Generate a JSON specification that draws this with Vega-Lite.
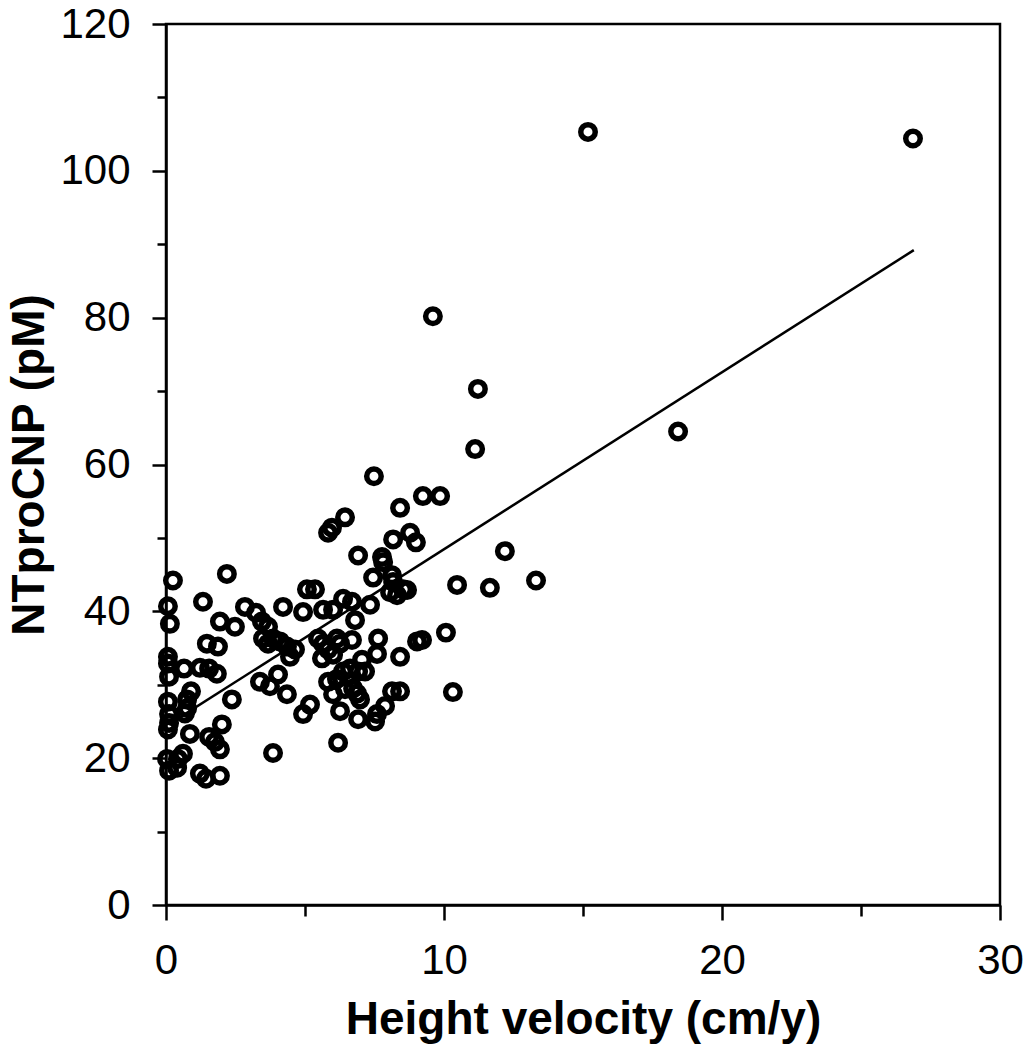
{
  "$schema": "https://vega.github.io/schema/vega-lite/v6.json",
  "autosize": "none",
  "width": 834,
  "height": 881,
  "padding": {"left": 166, "top": 24, "right": 25, "bottom": 145},
  "background": "white",
  "config": {
    "view": {"stroke": "black", "strokeWidth": 2.5},
    "font": "Liberation Sans",
    "axis": {
      "domainColor": "black", "domainWidth": 2.5,
      "tickColor": "black", "tickWidth": 2.5,
      "labelColor": "black", "labelFont": "Liberation Sans", "labelFontSize": 42,
      "titleColor": "black", "titleFont": "Liberation Sans", "titleFontSize": 46, "titleFontWeight": "bold",
      "grid": false
    }
  },
  "datasets": {
    "pts": [
      {"hv": 0.07, "nt": 40.7}, {"hv": 0.25, "nt": 44.2}, {"hv": 0.14, "nt": 38.3}, {"hv": 0.07, "nt": 33.8},
      {"hv": 0.07, "nt": 32.9}, {"hv": 0.11, "nt": 31.1}, {"hv": 0.07, "nt": 27.7}, {"hv": 0.11, "nt": 26.0},
      {"hv": 0.07, "nt": 23.9}, {"hv": 0.11, "nt": 24.8}, {"hv": 0.04, "nt": 19.9}, {"hv": 0.11, "nt": 18.3},
      {"hv": 0.40, "nt": 18.7}, {"hv": 1.33, "nt": 41.3}, {"hv": 2.19, "nt": 45.1}, {"hv": 1.94, "nt": 38.6},
      {"hv": 2.48, "nt": 37.9}, {"hv": 1.47, "nt": 35.6}, {"hv": 1.87, "nt": 35.2}, {"hv": 0.65, "nt": 32.2},
      {"hv": 1.22, "nt": 32.3}, {"hv": 1.55, "nt": 32.2}, {"hv": 1.83, "nt": 31.5}, {"hv": 0.90, "nt": 29.1},
      {"hv": 0.76, "nt": 28.0}, {"hv": 0.76, "nt": 26.8}, {"hv": 2.37, "nt": 28.0}, {"hv": 0.68, "nt": 26.1},
      {"hv": 0.86, "nt": 23.3}, {"hv": 2.01, "nt": 24.6}, {"hv": 1.55, "nt": 22.9}, {"hv": 1.76, "nt": 22.2},
      {"hv": 1.94, "nt": 21.2}, {"hv": 0.61, "nt": 20.6}, {"hv": 0.43, "nt": 19.9}, {"hv": 1.22, "nt": 17.9},
      {"hv": 1.44, "nt": 17.2}, {"hv": 1.94, "nt": 17.6}, {"hv": 2.84, "nt": 40.6}, {"hv": 3.24, "nt": 39.8},
      {"hv": 3.45, "nt": 38.6}, {"hv": 4.21, "nt": 40.6}, {"hv": 3.67, "nt": 37.9}, {"hv": 3.49, "nt": 36.3},
      {"hv": 3.85, "nt": 36.3}, {"hv": 4.10, "nt": 35.9}, {"hv": 4.35, "nt": 35.2}, {"hv": 4.64, "nt": 34.8},
      {"hv": 4.46, "nt": 33.8}, {"hv": 3.67, "nt": 35.6}, {"hv": 3.38, "nt": 30.4}, {"hv": 3.74, "nt": 29.8},
      {"hv": 4.03, "nt": 31.4}, {"hv": 4.35, "nt": 28.7}, {"hv": 3.85, "nt": 20.7}, {"hv": 5.07, "nt": 43.0},
      {"hv": 5.36, "nt": 43.0}, {"hv": 4.93, "nt": 39.9}, {"hv": 5.65, "nt": 40.2}, {"hv": 6.37, "nt": 41.7},
      {"hv": 5.47, "nt": 36.3}, {"hv": 5.65, "nt": 35.6}, {"hv": 5.83, "nt": 34.8}, {"hv": 6.01, "nt": 34.1},
      {"hv": 6.26, "nt": 35.6}, {"hv": 5.61, "nt": 33.6}, {"hv": 5.83, "nt": 30.4}, {"hv": 6.37, "nt": 31.8},
      {"hv": 5.18, "nt": 27.3}, {"hv": 4.93, "nt": 26.0}, {"hv": 6.26, "nt": 26.4}, {"hv": 6.44, "nt": 29.4},
      {"hv": 6.73, "nt": 29.5}, {"hv": 6.98, "nt": 28.0}, {"hv": 6.91, "nt": 25.3}, {"hv": 7.52, "nt": 25.0},
      {"hv": 7.88, "nt": 27.1}, {"hv": 8.13, "nt": 29.1}, {"hv": 6.19, "nt": 22.1}, {"hv": 5.97, "nt": 51.4},
      {"hv": 5.83, "nt": 50.7}, {"hv": 6.44, "nt": 52.8}, {"hv": 7.48, "nt": 58.4}, {"hv": 6.91, "nt": 47.6},
      {"hv": 7.77, "nt": 47.4}, {"hv": 7.81, "nt": 46.7}, {"hv": 8.17, "nt": 49.8}, {"hv": 8.42, "nt": 54.1},
      {"hv": 8.78, "nt": 50.7}, {"hv": 8.99, "nt": 49.4}, {"hv": 9.24, "nt": 55.7}, {"hv": 9.86, "nt": 55.7},
      {"hv": 7.45, "nt": 44.6}, {"hv": 8.13, "nt": 44.9}, {"hv": 8.31, "nt": 42.2}, {"hv": 8.67, "nt": 42.9},
      {"hv": 6.69, "nt": 41.3}, {"hv": 7.34, "nt": 40.9}, {"hv": 6.01, "nt": 40.2}, {"hv": 6.80, "nt": 38.8},
      {"hv": 7.63, "nt": 36.3}, {"hv": 6.69, "nt": 36.1}, {"hv": 6.15, "nt": 36.3}, {"hv": 7.59, "nt": 34.2},
      {"hv": 8.42, "nt": 33.8}, {"hv": 9.03, "nt": 35.9}, {"hv": 9.21, "nt": 36.1}, {"hv": 7.05, "nt": 33.4},
      {"hv": 6.62, "nt": 32.2}, {"hv": 6.91, "nt": 31.8}, {"hv": 7.16, "nt": 31.8}, {"hv": 6.15, "nt": 30.8},
      {"hv": 6.01, "nt": 28.7}, {"hv": 6.87, "nt": 28.8}, {"hv": 7.59, "nt": 26.0}, {"hv": 8.53, "nt": 43.0},
      {"hv": 8.06, "nt": 42.6}, {"hv": 8.17, "nt": 44.0}, {"hv": 11.12, "nt": 62.1}, {"hv": 11.22, "nt": 70.3},
      {"hv": 9.60, "nt": 80.2}, {"hv": 12.19, "nt": 48.2}, {"hv": 13.31, "nt": 44.2}, {"hv": 11.65, "nt": 43.2},
      {"hv": 10.47, "nt": 43.6}, {"hv": 10.07, "nt": 37.1}, {"hv": 10.32, "nt": 29.0}, {"hv": 8.42, "nt": 29.1},
      {"hv": 15.18, "nt": 105.3}, {"hv": 26.87, "nt": 104.4}, {"hv": 18.42, "nt": 64.5}
    ],
    "fit": [
      {"hv": 0.1, "nt": 24.6},
      {"hv": 26.9, "nt": 89.2}
    ]
  },
  "layer": [
    {
      "data": {"name": "fit"},
      "mark": {"type": "line", "color": "black", "strokeWidth": 2.5},
      "encoding": {
        "x": {"field": "hv", "type": "quantitative"},
        "y": {"field": "nt", "type": "quantitative"}
      }
    },
    {
      "data": {"name": "pts"},
      "mark": {"type": "point", "shape": "circle", "filled": false, "stroke": "black", "strokeWidth": 5.5, "size": 210, "opacity": 1},
      "encoding": {
        "x": {
          "field": "hv", "type": "quantitative",
          "scale": {"domain": [0, 30], "nice": false, "zero": false},
          "axis": {
            "title": "Height velocity (cm/y)",
            "values": [0, 5, 10, 15, 20, 25, 30],
            "labelExpr": "datum.value % 10 === 0 ? datum.label : ''",
            "tickSize": {"condition": {"test": "datum.value % 10 === 0", "value": 15}, "value": 11},
            "labelPadding": 20,
            "titlePadding": 16,
            "labelFlush": false,
            "labelOverlap": false
          }
        },
        "y": {
          "field": "nt", "type": "quantitative",
          "scale": {"domain": [0, 120], "nice": false, "zero": false},
          "axis": {
            "title": "NTproCNP (pM)",
            "values": [0, 10, 20, 30, 40, 50, 60, 70, 80, 90, 100, 110, 120],
            "labelExpr": "datum.value % 20 === 0 ? datum.label : ''",
            "tickSize": {"condition": {"test": "datum.value % 20 === 0", "value": 14}, "value": 9},
            "labelPadding": 22,
            "titlePadding": 6,
            "labelFlush": false,
            "labelOverlap": false
          }
        }
      }
    }
  ]
}
